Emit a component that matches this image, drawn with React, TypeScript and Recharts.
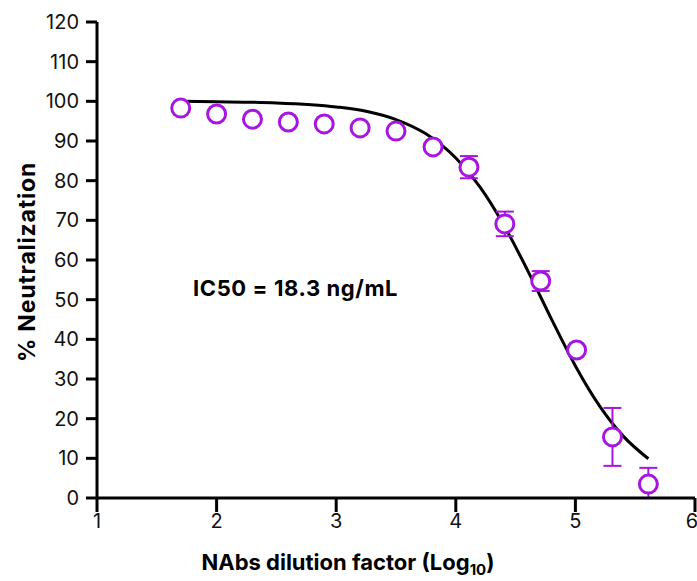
import React from 'react';
import { ComposedChart, Line, Scatter, ErrorBar, XAxis, YAxis, Label } from 'recharts';

// measured points: log10 dilution vs % neutralization
const dilutionLog = [1.70, 2.00, 2.30, 2.60, 2.90, 3.20, 3.50, 3.81, 4.11, 4.41, 4.71, 5.01, 5.31, 5.61];
const neutralization = [98.3, 96.8, 95.5, 94.8, 94.3, 93.3, 92.5, 88.5, 83.4, 69.1, 54.7, 37.3, 15.4, 3.5];
const errLow = [null, null, null, null, null, null, null, null, 2.8, 3.1, 2.5, null, 7.3, 3.5];
const errHigh = [null, null, null, null, null, null, null, null, 2.8, 3.1, 2.5, null, 7.3, 4.1];

// fitted curve
const fitLog = [1.70, 2.00, 2.50, 3.00, 3.25, 3.50, 3.75, 4.00, 4.20, 4.40, 4.60, 4.80, 5.00, 5.20, 5.40, 5.61];
const fitValue = [100.0, 99.9, 99.6, 98.6, 97.5, 95.4, 91.8, 85.7, 78.5, 68.9, 57.4, 45.1, 33.3, 23.3, 15.6, 9.9];

const xTicks = [1, 2, 3, 4, 5, 6];
const yTicks = [0, 10, 20, 30, 40, 50, 60, 70, 80, 90, 100, 110, 120];

const PURPLE = '#A815E0';
const FONT = 'Inter, "Noto Sans", sans-serif';

const points = dilutionLog.map((x, i) => ({
  x,
  y: neutralization[i],
  err: errLow[i] == null ? undefined : [errLow[i], errHigh[i]],
}));
const fit = fitLog.map((x, i) => ({ x, y: fitValue[i] }));

const OpenCircle = (props: any) => (
  <circle cx={props.cx} cy={props.cy} r={9} fill="#fff" stroke={PURPLE} strokeWidth={3} />
);

const XTitle = ({ viewBox }: any) => (
  <text
    x={viewBox.x + viewBox.width / 2 - 48}
    y={viewBox.y + 72}
    textAnchor="middle"
    fontFamily={FONT}
    fontWeight={700}
    fontSize={22}
    fill="#000"
  >
    NAbs dilution factor (Log
    <tspan fontSize={15} dy={5}>10</tspan>
    <tspan dy={-5}>)</tspan>
  </text>
);

const YTitle = ({ viewBox }: any) => {
  const cx = 27;
  const cy = viewBox.y + viewBox.height / 2 + 2;
  return (
    <text
      x={cx}
      y={cy}
      transform={`rotate(-90, ${cx}, ${cy})`}
      textAnchor="middle"
      dominantBaseline="central"
      fontFamily={FONT}
      fontWeight={700}
      fontSize={23}
      letterSpacing={0.8}
      fill="#000"
    >
      % Neutralization
    </text>
  );
};

export default function App() {
  const axisStyle = { stroke: '#000', strokeWidth: 3 };
  const tickStyle = { fill: '#111', fontSize: 20, fontFamily: FONT };
  return (
    <div style={{ position: 'absolute', top: 0, left: 0, width: 697, height: 581, background: '#fff' }}>
      <ComposedChart width={697} height={581} margin={{ top: 22, right: 2, bottom: 0, left: 0 }}>
        <XAxis
          dataKey="x"
          type="number"
          domain={[1, 6]}
          ticks={xTicks}
          height={83}
          tickSize={14}
          tickMargin={2}
          axisLine={axisStyle}
          tickLine={axisStyle}
          tick={tickStyle}
          allowDataOverflow
        >
          <Label content={<XTitle />} />
        </XAxis>
        <YAxis
          dataKey="y"
          type="number"
          domain={[0, 120]}
          ticks={yTicks}
          width={97}
          tickSize={11}
          tickMargin={7}
          axisLine={axisStyle}
          tickLine={axisStyle}
          tick={tickStyle}
          allowDataOverflow
        >
          <Label content={<YTitle />} />
        </YAxis>
        <Line
          data={fit}
          dataKey="y"
          type="monotone"
          stroke="#000"
          strokeWidth={3}
          dot={false}
          activeDot={false}
          isAnimationActive={false}
        />
        <Scatter data={points} dataKey="y" shape={<OpenCircle />} isAnimationActive={false}>
          <ErrorBar dataKey="err" direction="y" width={9} stroke={PURPLE} strokeWidth={2} />
        </Scatter>
      </ComposedChart>
      <div
        style={{
          position: 'absolute',
          left: 193,
          top: 275,
          fontFamily: FONT,
          fontWeight: 700,
          fontSize: 22,
          letterSpacing: 0.6,
          color: '#000',
          whiteSpace: 'nowrap',
        }}
      >
        IC50 = 18.3 ng/mL
      </div>
    </div>
  );
}
